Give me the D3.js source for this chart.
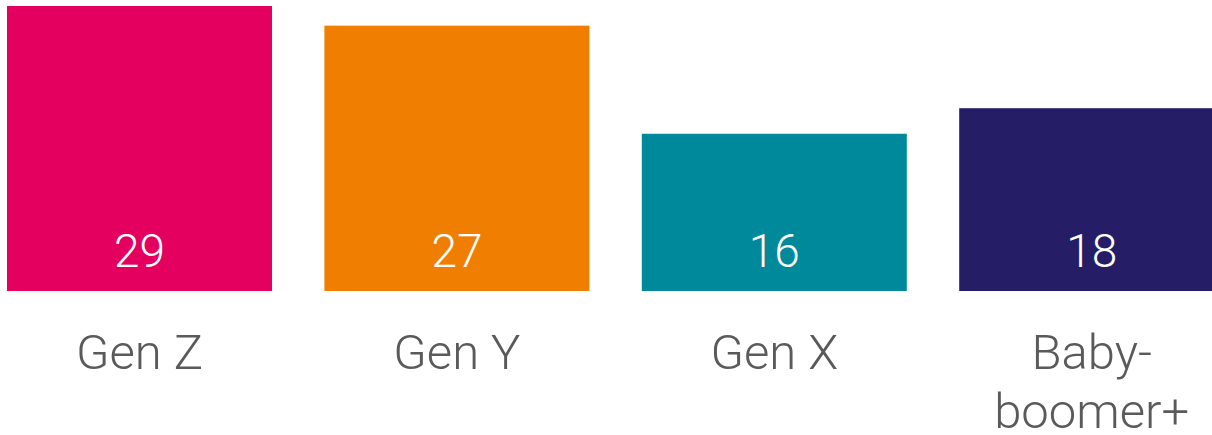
<!DOCTYPE html>
<html>
<head>
	<meta charset="utf-8">
	<title>Generations</title>
	<style>
		body { margin: 0; background: #fff; }
		svg { display: block; }
	</style>
</head>
<body>
<svg width="1212" height="435"></svg>
<script src="https://d3js.org/d3.v7.min.js"></script>
<script>
	// data
	const categories = ['Gen Z', 'Gen Y', 'Gen X', 'Baby-|boomer+'];
	const values = [29, 27, 16, 18.6];
	const valueLabels = ['29', '27', '16', '18'];
	const colors = ['#e4005f', '#f07e00', '#00899b', '#261d67'];

	const plotLeft = 7, plotBase = 291, plotTop = 6;
	const step = 317.4, barW = 265;

	const svg = d3.select('svg');

	// last bar runs past the right edge, like the original
	const x = d3.scaleBand()
		.domain(categories)
		.range([plotLeft, plotLeft + 3 * step + barW])
		.paddingInner(1 - barW / step)
		.paddingOuter(0);

	const y = d3.scaleLinear()
		.domain([0, 29])
		.range([plotBase, plotTop]);

	const data = categories.map((c, i) => ({cat: c, value: values[i], label: valueLabels[i], color: colors[i]}));

	svg.append('g').selectAll('rect')
		.data(data)
		.join('rect')
		.attr('x', d => x(d.cat))
		.attr('y', d => y(d.value))
		.attr('width', x.bandwidth())
		.attr('height', d => y(0) - y(d.value))
		.attr('fill', d => d.color);

	svg.append('g').selectAll('text')
		.data(data)
		.join('text')
		.attr('x', d => x(d.cat) + x.bandwidth() / 2)
		.attr('y', 267)
		.attr('text-anchor', 'middle')
		.attr('fill', '#fff')
		.style('font-family', 'Roboto, sans-serif')
		.style('font-weight', 300)
		.style('font-size', '46px')
		.text(d => d.label);

	// category labels, '|' splits lines
	const catText = svg.append('g').selectAll('text')
		.data(data)
		.join('text')
		.attr('text-anchor', 'middle')
		.attr('fill', '#5a5a5a')
		.style('font-family', 'Roboto, sans-serif')
		.style('font-weight', 300)
		.style('font-size', '49px');

	catText.selectAll('tspan')
		.data(d => d.cat.split('|').map(t => ({t, cx: x(d.cat) + x.bandwidth() / 2})))
		.join('tspan')
		.attr('x', d => d.cx)
		.attr('y', (d, i) => 369 + i * 59)
		.text(d => d.t);
</script>
</body>
</html>
